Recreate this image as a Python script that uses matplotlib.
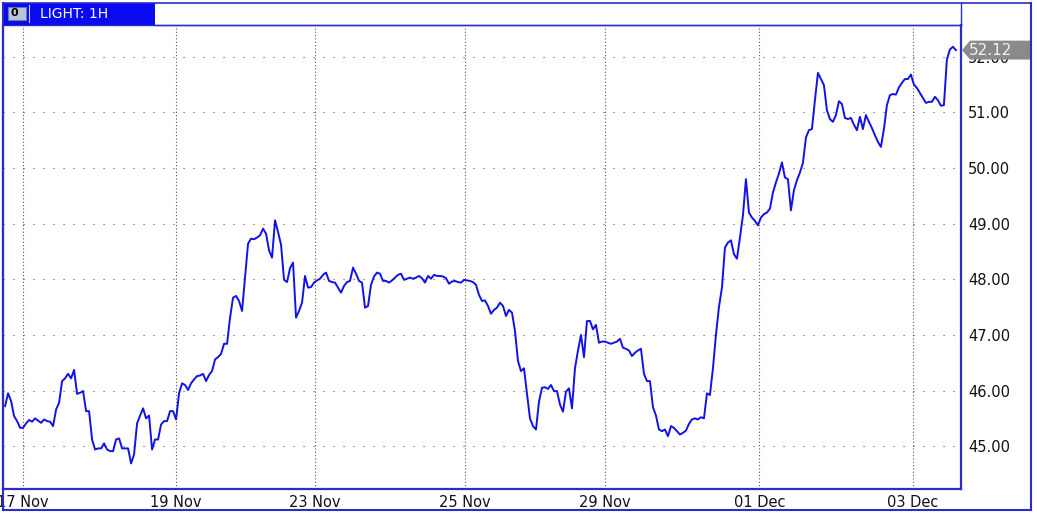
import numpy as np
import matplotlib
matplotlib.use('Agg')
import matplotlib.pyplot as plt
from matplotlib.patches import Rectangle, Polygon
from matplotlib.lines import Line2D
import matplotlib.transforms as mtransforms

# hourly closes, LIGHT 1H
prices = [
    45.72, 45.95, 45.81, 45.54, 45.45, 45.33, 45.33, 45.41, 45.47, 45.44,
    45.50, 45.46, 45.42, 45.48, 45.45, 45.44, 45.36, 45.66, 45.78, 46.17,
    46.22, 46.30, 46.22, 46.37, 45.94, 45.96, 45.99, 45.63, 45.63, 45.12,
    44.94, 44.96, 44.96, 45.05, 44.94, 44.91, 44.91, 45.12, 45.14, 44.96,
    44.96, 44.96, 44.69, 44.85, 45.41, 45.55, 45.68, 45.50, 45.55, 44.94,
    45.12, 45.12, 45.39, 45.45, 45.45, 45.63, 45.63, 45.48, 45.95, 46.13,
    46.10, 46.01, 46.13, 46.20, 46.26, 46.27, 46.30, 46.17, 46.28, 46.35,
    46.56, 46.60, 46.66, 46.84, 46.84, 47.31, 47.67, 47.70, 47.61, 47.43,
    48.03, 48.64, 48.73, 48.72, 48.75, 48.79, 48.91, 48.82, 48.52, 48.39,
    49.06, 48.85, 48.62, 47.99, 47.95, 48.20, 48.30, 47.31, 47.43, 47.58,
    48.06, 47.85, 47.86, 47.94, 47.98, 48.01, 48.08, 48.12, 47.97, 47.95,
    47.94, 47.85, 47.76, 47.88, 47.95, 47.97, 48.21, 48.10, 47.97, 47.94,
    47.49, 47.52, 47.90, 48.05, 48.12, 48.10, 47.97, 47.97, 47.94, 47.98,
    48.03, 48.08, 48.10, 47.99, 48.01, 48.03, 48.01, 48.03, 48.06, 48.02,
    47.94, 48.06, 48.01, 48.08, 48.06, 48.06, 48.05, 48.02, 47.92, 47.96,
    47.97, 47.95, 47.94, 47.99, 47.98, 47.97, 47.95, 47.90, 47.72, 47.61,
    47.62, 47.52, 47.38, 47.45, 47.49, 47.58, 47.52, 47.34, 47.45, 47.40,
    47.07, 46.53, 46.35, 46.40, 45.94, 45.50, 45.36, 45.30, 45.80, 46.05,
    46.06, 46.03, 46.10, 45.99, 45.99, 45.75, 45.62, 45.98, 46.04, 45.68,
    46.40, 46.72, 47.00, 46.60, 47.25, 47.25, 47.10, 47.18, 46.86, 46.88,
    46.88, 46.86, 46.84, 46.86, 46.88, 46.93, 46.77, 46.75, 46.72, 46.62,
    46.68, 46.72, 46.75, 46.30, 46.17, 46.17, 45.70, 45.55, 45.30, 45.27,
    45.30, 45.18, 45.36, 45.33, 45.27, 45.21, 45.24, 45.28, 45.40, 45.48,
    45.50, 45.48, 45.52, 45.50, 45.95, 45.92, 46.40, 47.00, 47.50, 47.85,
    48.57, 48.66, 48.70, 48.45, 48.37, 48.75, 49.15, 49.80, 49.20, 49.11,
    49.05, 48.97, 49.11, 49.17, 49.20, 49.27, 49.56, 49.74, 49.90, 50.10,
    49.83, 49.80, 49.24, 49.60, 49.78, 49.92, 50.09, 50.55, 50.68, 50.70,
    51.22, 51.71, 51.60, 51.49, 51.04, 50.88, 50.83, 50.95, 51.20, 51.15,
    50.90, 50.88, 50.90, 50.78, 50.68, 50.92, 50.70, 50.95, 50.83, 50.72,
    50.59, 50.47, 50.38, 50.70, 51.13, 51.31, 51.33, 51.32, 51.45, 51.53,
    51.60, 51.60, 51.68, 51.50, 51.44, 51.35, 51.26, 51.17, 51.19, 51.19,
    51.28, 51.22, 51.12, 51.13, 51.95, 52.13, 52.18, 52.12,
]
bars = np.arange(len(prices))

# session start bars used for the date axis
date_ticks = [5.9, 56.9, 103.2, 153.3, 200.0, 251.5, 302.6]
date_labels = ['17 Nov', '19 Nov', '23 Nov', '25 Nov', '29 Nov', '01 Dec', '03 Dec']
price_ticks = [45, 46, 47, 48, 49, 50, 51, 52]

W, H = 1037, 513
FRAME = '#2c2cc8'
GRID = '#555555'

def fx(x):
    return x / W

def fy(y):
    return 1 - y / H

fig = plt.figure(figsize=(W / 100, H / 100), dpi=100)
fig.patch.set_facecolor('white')
ax = fig.add_axes([fx(3), fy(489), fx(961) - fx(3), fy(24.5) - fy(489)])

ax.plot(bars, prices, color='#1212e8', linewidth=1.4, zorder=3)

ax.set_xlim(-0.7, 318.7)
ax.set_ylim(44.23, 52.58)
ax.set_xticks(date_ticks)
ax.set_xticklabels(date_labels)
ax.set_yticks(price_ticks)
ax.set_yticklabels(['%.2f' % p for p in price_ticks])
ax.yaxis.tick_right()
ax.tick_params(axis='both', length=0, labelsize=10.5, colors='#111111')
ax.tick_params(axis='y', pad=5)
ax.tick_params(axis='x', pad=4)

for t in date_ticks:
    ax.axvline(t, color=GRID, linewidth=0.8, linestyle=(0, (1, 2)), zorder=1)
for p in price_ticks:
    ax.axhline(p, color=GRID, linewidth=0.8, linestyle=(0, (1, 8)), zorder=1)

for side in ['left', 'bottom', 'right']:
    ax.spines[side].set_color(FRAME)
    ax.spines[side].set_linewidth(1.6)
ax.spines['top'].set_color(FRAME)
ax.spines['top'].set_linewidth(1.0)

# last price marker
last = prices[-1]
trans = mtransforms.blended_transform_factory(fig.transFigure, ax.transData)
hh = 0.17
marker = Polygon([(fx(962), last), (fx(970), last + hh), (fx(1031), last + hh),
                  (fx(1031), last - hh), (fx(970), last - hh)],
                 closed=True, transform=trans, facecolor='#8a8a8a',
                 edgecolor='none', clip_on=False, zorder=6)
ax.add_patch(marker)
ax.text(fx(969), last, '%.2f' % last, transform=trans, color='#f2f2f2',
        fontsize=11, va='center', ha='left', zorder=7, clip_on=False)

# window frame and title bar
fig.add_artist(Line2D([fx(3), fx(1031)], [fy(3), fy(3)], color=FRAME, linewidth=1.2))
fig.add_artist(Line2D([fx(1031), fx(1031)], [fy(3), fy(510)], color=FRAME, linewidth=1.5))
fig.add_artist(Line2D([fx(3), fx(1031)], [fy(510), fy(510)], color=FRAME, linewidth=1.5))
fig.add_artist(Line2D([fx(3), fx(3)], [fy(3), fy(510)], color=FRAME, linewidth=1.5))
fig.add_artist(Line2D([fx(155), fx(961)], [fy(24.5), fy(24.5)], color=FRAME, linewidth=1.0))
fig.add_artist(Line2D([fx(961), fx(961)], [fy(3), fy(24.5)], color=FRAME, linewidth=1.0))
fig.add_artist(Rectangle((fx(3), fy(24.5)), fx(155) - fx(3), fy(3) - fy(24.5),
                         transform=fig.transFigure, facecolor='#0a0af0', edgecolor='none'))
fig.add_artist(Rectangle((fx(8), fy(20)), fx(26) - fx(8), fy(7) - fy(20),
                         transform=fig.transFigure, facecolor='#b8c4d8', edgecolor='#6a7a9a',
                         linewidth=0.8))
fig.add_artist(Line2D([fx(29), fx(29)], [fy(5), fy(22)], color='#c8d0ff', linewidth=0.8))
fig.text(fx(14), fy(13.5), '0', fontsize=8, fontweight='bold', color='black',
         ha='center', va='center')
fig.text(fx(40), fy(13.5), 'LIGHT: 1H', fontsize=10, color='white', ha='left', va='center')

fig.savefig('out.png', dpi=100)
